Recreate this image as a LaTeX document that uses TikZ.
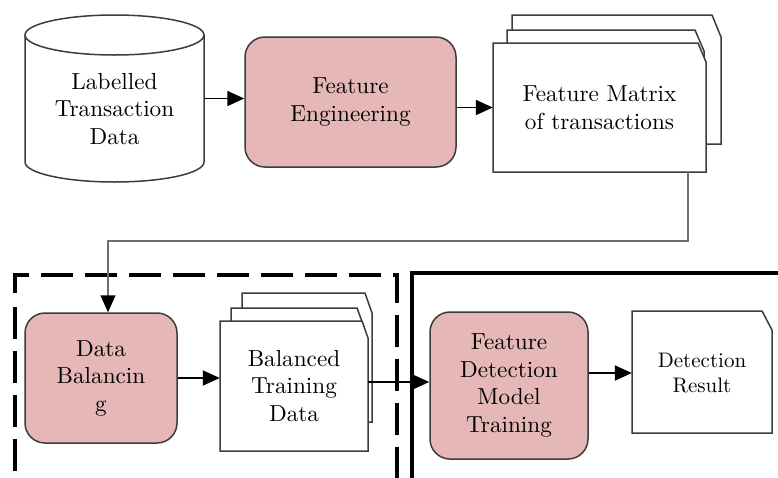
\documentclass[tikz,border=0pt]{standalone}
\usepackage{fontspec}
\IfFontExistsTF{lmroman10-regular.otf}
  {\newfontfamily\diagfont{lmroman10-regular.otf}}
  {\newcommand\diagfont{\rmfamily}}
\usetikzlibrary{arrows.meta}
\definecolor{boxpink}{RGB}{229,184,183}
\definecolor{edgegray}{RGB}{60,60,60}
\definecolor{linkgray}{RGB}{110,110,110}
\tikzset{
  x=1pt, y=1pt,
  outline/.style={draw=edgegray, line width=1.5pt},
  procbox/.style={outline, fill=boxpink, rounded corners=20pt, align=center,
    inner sep=0pt, font=\diagfont\fontsize{23.2}{27.5}\selectfont},
  docsheet/.style={outline, fill=white},
  anchorbox/.style={draw=none, inner sep=0pt, align=center,
    font=\diagfont\fontsize{23.2}{27.5}\selectfont},
  flow/.style={draw=black, line width=1.8pt, -{Triangle[length=17pt,width=15pt]}},
  graylink/.style={draw=linkgray, line width=1.6pt, -{Triangle[length=17pt,width=15pt,color=black]}},
  dashedframe/.style={draw=black, line width=4pt, dash pattern=on 32pt off 12pt},
  solidframe/.style={draw=black, line width=4pt},
}
\begin{document}
\begin{tikzpicture}
\useasboundingbox (0,0) rectangle (778,-477);
\clip (0,0) rectangle (778,-477);
\fill[white] (0,0) rectangle (778,-477);

% frames
\draw[dashedframe] (15,-293) -- (15,-275) -- (397,-275) -- (397,-500);
\draw[dashedframe] (15,-307) -- (15,-500);
\draw[solidframe] (412,-500) -- (412,-273) -- (790,-273);

% cylinder
\draw[outline, fill=white] (25,-35) -- (25,-162) arc[start angle=180, end angle=360, x radius=89.5, y radius=20] -- (204,-35);
\draw[outline, fill=white] (114.5,-35) ellipse[x radius=89.5, y radius=20];
\node[anchorbox, minimum width=179pt, minimum height=167pt] (cyl) at (114.5,-98.5) {};
\node[anchorbox] at (114.5,-109) {Labelled\\Transaction\\Data};

% feature engineering
\node[procbox, minimum width=211pt, minimum height=130pt] (fe) at (350.5,-102) {Feature\\Engineering};

% feature matrix stack
\draw[docsheet] (512,-15) -- (712,-15) -- (721,-37) -- (721,-144) -- (512,-144) -- cycle;
\draw[docsheet] (507,-30) -- (695,-30) -- (704,-51) -- (704,-158) -- (507,-158) -- cycle;
\draw[docsheet] (493,-43) -- (698,-43) -- (706,-62) -- (706,-172) -- (493,-172) -- cycle;
\node[anchorbox, minimum width=213pt, minimum height=129pt] (fm) at (599.5,-107.5) {Feature Matrix\\of transactions};

% data balancing
\node[procbox, minimum width=152pt, minimum height=130pt] (db) at (101,-378) {Data\\Balancin\\g};

% balanced training data stack
\draw[docsheet] (242,-293) -- (365,-293) -- (372,-313) -- (372,-422) -- (242,-422) -- cycle;
\draw[docsheet] (231,-308) -- (357,-308) -- (364,-327) -- (364,-436) -- (231,-436) -- cycle;
\draw[docsheet] (220,-321) -- (362,-321) -- (368,-338) -- (368,-451) -- (220,-451) -- cycle;
\node[anchorbox, minimum width=148pt, minimum height=130pt] (btd) at (294,-386) {Balanced\\Training\\Data};

% feature detection model training
\node[procbox, minimum width=158pt, minimum height=147pt] (fdmt) at (509,-385.5) {Feature\\Detection\\Model\\Training};

% detection result
\draw[docsheet] (632,-311) -- (762,-311) -- (772,-330) -- (772,-433) -- (632,-433) -- cycle;
\node[anchorbox, minimum width=140pt, minimum height=122pt, font=\diagfont\fontsize{21}{25}\selectfont] (dr) at (702,-373) {Detection\\Result};

% connectors
\coordinate (bendA) at (688,-241);
\coordinate (bendB) at (108,-241);
\draw[flow] (cyl.east) -- (cyl.east -| fe.west);
\draw[flow] (fe.east |- fm.west) -- (fm.west);
\draw[graylink] (fm.south -| bendA) -- (bendA) -- (bendB) -- (bendB |- db.north);
\draw[flow] (db.east) -- (db.east -| btd.west);
\draw[flow] ([yshift=4pt]btd.east) -- ([yshift=4pt]btd.east -| fdmt.west);
\draw[flow] (fdmt.east |- dr.west) -- (dr.west);
\end{tikzpicture}
\end{document}
